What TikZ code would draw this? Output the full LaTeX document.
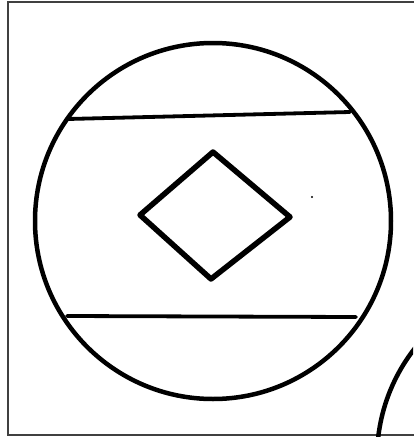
\documentclass[tikz,border=0pt]{standalone}
\begin{document}
\begin{tikzpicture}[x=1pt,y=-1pt,
  thick line/.style={line width=4.5pt,black},
  band/.style={line width=3.8pt,black,line cap=round},
  frame/.style={line width=1.2pt,black!75}]
\useasboundingbox (0,0) rectangle (413,437);
\draw[frame] (440,2) -- (8,2) -- (8,435) -- (440,435);
\clip (0,0) rectangle (413,437);
\draw[thick line] (213,221) circle (178);
\draw[thick line] (555,458) circle (178);
\coordinate (tl) at (68,119);
\coordinate (tr) at (350,112);
\coordinate (bl) at (67,316);
\coordinate (br) at (356,317);
\draw[band] (tl) -- (tr);
\draw[band] (bl) -- (br);
\coordinate (dt) at (213,152);
\coordinate (dr) at (290,217);
\coordinate (db) at (211,279);
\coordinate (dl) at (140,215);
\draw[line width=5.5pt,line join=round] (dt) -- (dr) -- (db) -- (dl) -- cycle;
\fill (312,197) circle (1.1);
\end{tikzpicture}
\end{document}
